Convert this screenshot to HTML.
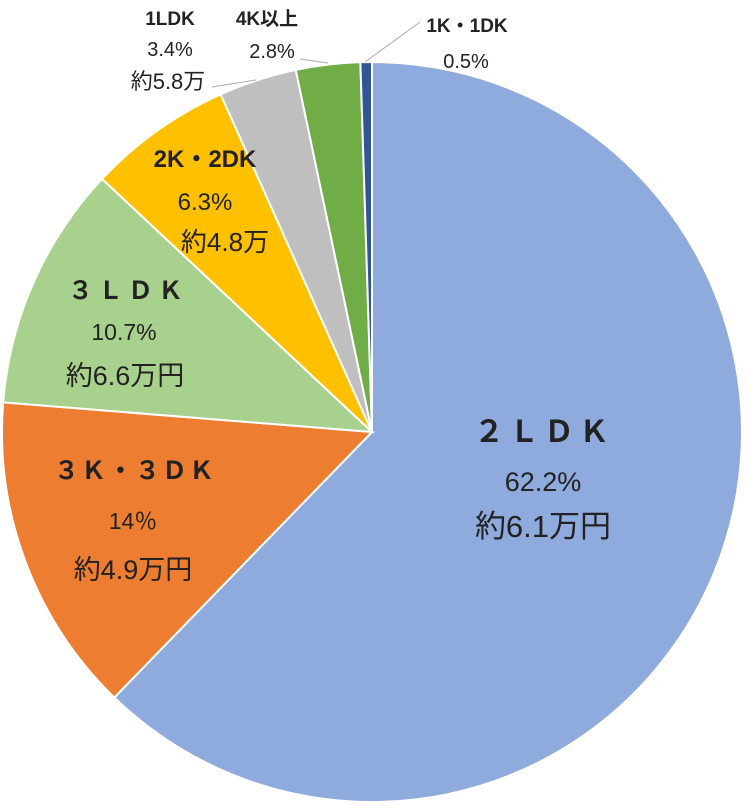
<!DOCTYPE html>
<html><head><meta charset="utf-8"><style>
html,body{margin:0;padding:0;background:#fff;}
svg{display:block;font-family:"Liberation Sans","Noto Sans CJK JP",sans-serif;}
</style></head><body>
<svg id="chart" width="750" height="809">
<g id="slices"></g>
<g id="labels" fill="#222">
<text x="544" y="442" font-size="30" font-weight="bold" text-anchor="middle" letter-spacing="5">２ＬＤＫ</text>
<text x="543" y="491" font-size="27" text-anchor="middle">62.2%</text>
<text x="543" y="537" font-size="31" text-anchor="middle">約6.1万円</text>
<text x="135" y="479" font-size="25" font-weight="bold" text-anchor="middle" letter-spacing="2">３Ｋ・３ＤＫ</text>
<text x="133" y="529" font-size="23" text-anchor="middle">14％</text>
<text x="133" y="579" font-size="27" text-anchor="middle">約4.9万円</text>
<text x="128" y="299" font-size="25" font-weight="bold" text-anchor="middle" letter-spacing="5">３ＬＤＫ</text>
<text x="124" y="340" font-size="23" text-anchor="middle">10.7%</text>
<text x="125" y="385" font-size="27" text-anchor="middle">約6.6万円</text>
<text x="205" y="167" font-size="24" font-weight="bold" text-anchor="middle">2K・2DK</text>
<text x="205" y="210" font-size="24" text-anchor="middle">6.3%</text>
<text x="225" y="251" font-size="26" text-anchor="middle">約4.8万</text>
<text x="170" y="25" font-size="19" font-weight="bold" text-anchor="middle">1LDK</text>
<text x="170" y="56" font-size="20" text-anchor="middle">3.4%</text>
<text x="168" y="89" font-size="22" text-anchor="middle">約5.8万</text>
<text x="267" y="25" font-size="19" font-weight="bold" text-anchor="middle">4K以上</text>
<text x="272" y="58" font-size="20" text-anchor="middle">2.8%</text>
<text x="467" y="32" font-size="19" font-weight="bold" text-anchor="middle">1K・1DK</text>
<text x="466" y="68" font-size="20" text-anchor="middle">0.5%</text>
</g>
<g stroke="#aaa" stroke-width="1" fill="none">
<polyline points="212,87 256,80"/>
<polyline points="300,59 328,63"/>
<polyline points="420,22 365,62"/>
</g>
</svg>
<script>
const categories = ["2LDK","3K・3DK","3LDK","2K・2DK","1LDK","4K以上","1K・1DK"];
const values = [62.2,14,10.7,6.3,3.4,2.8,0.5];
const colors = ["#8faadc","#ed7d31","#a9d18e","#ffc000","#bfbfbf","#70ad47","#2f5597"];
const cx=372, cy=432, r=370;
const total = values.reduce((a,b)=>a+b,0);
const g=document.getElementById('slices');
let a0=0;
function pt(a){return [cx+r*Math.sin(a), cy-r*Math.cos(a)];}
values.forEach((v,i)=>{
  const a1=a0+v/total*2*Math.PI;
  const p0=pt(a0), p1=pt(a1);
  const large=(a1-a0)>Math.PI?1:0;
  const p=document.createElementNS('http://www.w3.org/2000/svg','path');
  p.setAttribute('d',`M${cx},${cy} L${p0[0]},${p0[1]} A${r},${r} 0 ${large} 1 ${p1[0]},${p1[1]} Z`);
  p.setAttribute('fill',colors[i]);
  p.setAttribute('stroke','#fff');
  p.setAttribute('stroke-width','2');
  
  
  g.appendChild(p);
  a0=a1;
});
</script>
</body></html>
